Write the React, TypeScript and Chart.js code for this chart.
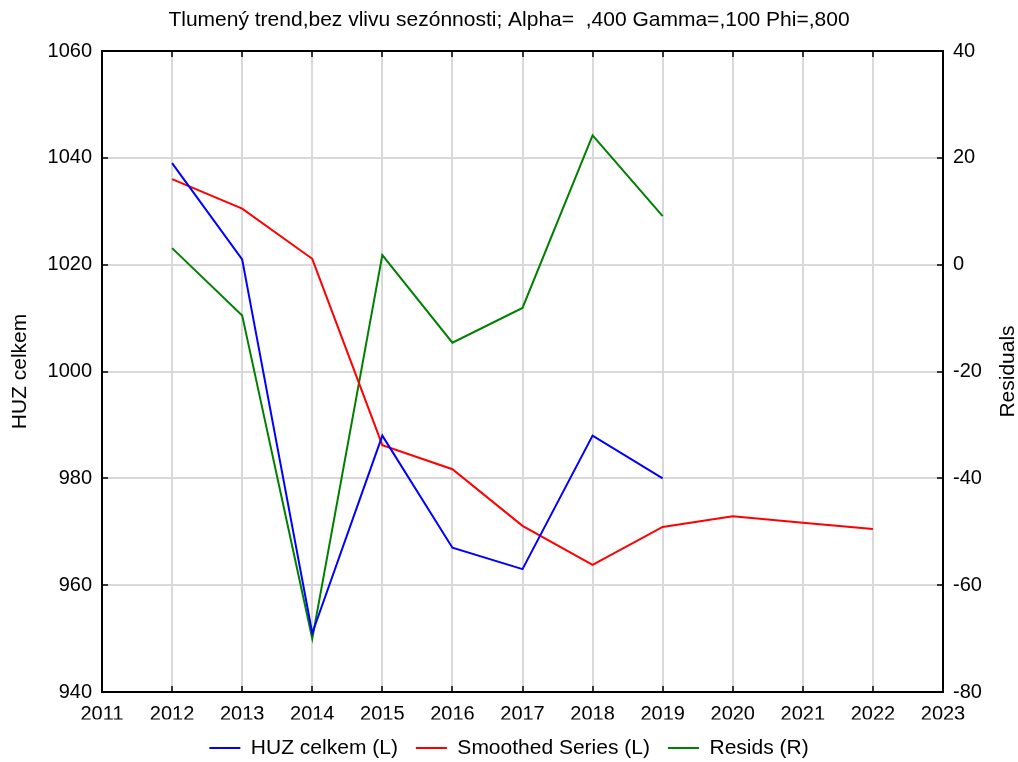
import React, { useEffect, useRef } from "react";
import { Chart, registerables } from "chart.js";

Chart.register(...registerables);

const TITLE = "Tlumený trend,bez vlivu sezónnosti; Alpha=  ,400 Gamma=,100 Phi=,800";
const LEFT_AXIS_TITLE = "HUZ celkem";
const RIGHT_AXIS_TITLE = "Residuals";

const yearsObserved = [2012, 2013, 2014, 2015, 2016, 2017, 2018, 2019];
const yearsSmoothed = [2012, 2013, 2014, 2015, 2016, 2017, 2018, 2019, 2020, 2021, 2022];

const huzCelkem = [1039, 1021, 951, 988, 967, 963, 988, 980];
const smoothedSeries = [1036, 1030.5, 1021.1, 986.2, 981.7, 971.1, 963.8, 970.9, 972.9, 971.7, 970.5];
const resids = [3.1, -9.5, -70, 1.8, -14.6, -8.1, 24.2, 9.1];

const xMin = 2011;
const xMax = 2023;
const leftMin = 940;
const leftMax = 1060;
const leftStep = 20;
const rightMin = -80;
const rightMax = 40;
const rightStep = 20;

const FONT = "'Liberation Sans', Arial, Helvetica, sans-serif";

const framePlugin = {
  id: "framePlugin",
  afterDraw(chart: any) {
    const { ctx, chartArea } = chart;
    const { left, right, top, bottom } = chartArea;
    const tl = 6;
    ctx.save();
    ctx.strokeStyle = "#000";
    ctx.lineWidth = 2;
    ctx.strokeRect(left, top, right - left, bottom - top);
    ctx.lineWidth = 1.5;
    const xs = chart.scales.x;
    ctx.beginPath();
    xs.ticks.forEach((t: any) => {
      const px = Math.round(xs.getPixelForValue(t.value));
      ctx.moveTo(px, top);
      ctx.lineTo(px, top + tl);
      ctx.moveTo(px, bottom);
      ctx.lineTo(px, bottom - tl);
    });
    const ys = chart.scales.y;
    ys.ticks.forEach((t: any) => {
      const py = Math.round(ys.getPixelForValue(t.value));
      ctx.moveTo(left, py);
      ctx.lineTo(left + tl, py);
    });
    const y1 = chart.scales.y1;
    y1.ticks.forEach((t: any) => {
      const py = Math.round(y1.getPixelForValue(t.value));
      ctx.moveTo(right, py);
      ctx.lineTo(right - tl, py);
    });
    ctx.stroke();

    ctx.fillStyle = "#000";
    ctx.font = `21px ${FONT}`;
    ctx.textAlign = "center";
    ctx.textBaseline = "middle";
    const cy = (top + bottom) / 2;
    ctx.save();
    ctx.translate(20, cy);
    ctx.rotate(-Math.PI / 2);
    ctx.fillText(LEFT_AXIS_TITLE, 0, 0);
    ctx.restore();
    ctx.save();
    ctx.translate(1008, cy);
    ctx.rotate(-Math.PI / 2);
    ctx.fillText(RIGHT_AXIS_TITLE, 0, 0);
    ctx.restore();
    ctx.restore();
  },
};

export default function App() {
  const ref = useRef<HTMLCanvasElement | null>(null);

  useEffect(() => {
    if (!ref.current) return;
    const chart = new Chart(ref.current, {
      type: "line",
      data: {
        datasets: [
          {
            label: "HUZ celkem (L)",
            data: yearsObserved.map((x, i) => ({ x, y: huzCelkem[i] })),
            borderColor: "#0000ff",
            backgroundColor: "#0000ff",
            borderWidth: 2,
            pointRadius: 0,
            tension: 0,
            yAxisID: "y",
          },
          {
            label: "Smoothed Series (L)",
            data: yearsSmoothed.map((x, i) => ({ x, y: smoothedSeries[i] })),
            borderColor: "#ff0000",
            backgroundColor: "#ff0000",
            borderWidth: 2,
            pointRadius: 0,
            tension: 0,
            yAxisID: "y",
          },
          {
            label: "Resids (R)",
            data: yearsObserved.map((x, i) => ({ x, y: resids[i] })),
            borderColor: "#008000",
            backgroundColor: "#008000",
            borderWidth: 2,
            pointRadius: 0,
            tension: 0,
            yAxisID: "y1",
          },
        ],
      },
      options: {
        responsive: false,
        animation: false,
        layout: { padding: { left: 0, right: 0, top: 0, bottom: 0 } },
        plugins: {
          title: {
            display: true,
            text: TITLE,
            color: "#000",
            font: { family: FONT, size: 21, weight: "normal", lineHeight: 1.2 },
            padding: { top: 8, bottom: 17.8 },
          },
          legend: {
            position: "bottom",
            maxHeight: 42.5,
            labels: {
              usePointStyle: true,
              pointStyle: "line",
              pointStyleWidth: 31,
              color: "#000",
              font: { family: FONT, size: 21 },
              padding: 18,
            },
          },
          tooltip: { enabled: false },
        },
        scales: {
          x: {
            type: "linear",
            min: xMin,
            max: xMax,
            ticks: {
              stepSize: 1,
              color: "#000",
              font: { family: FONT, size: 20 },
              padding: 10,
              maxRotation: 0,
              autoSkip: false,
              callback: (v: any) => String(v),
            },
            grid: { color: "#d9d9d9", lineWidth: 2, drawTicks: false },
            border: { display: false },
            afterFit: (s: any) => {
              s.height = 27.5;
            },
          },
          y: {
            type: "linear",
            position: "left",
            min: leftMin,
            max: leftMax,
            ticks: {
              stepSize: leftStep,
              color: "#000",
              font: { family: FONT, size: 20 },
              padding: 10,
              callback: (v: any) => String(v),
            },
            grid: { color: "#d9d9d9", lineWidth: 2, drawTicks: false },
            border: { display: false },
            afterFit: (s: any) => {
              s.width = 102;
            },
          },
          y1: {
            type: "linear",
            position: "right",
            min: rightMin,
            max: rightMax,
            ticks: {
              stepSize: rightStep,
              color: "#000",
              font: { family: FONT, size: 20 },
              padding: 10,
              callback: (v: any) => String(v),
            },
            grid: { display: false, drawTicks: false },
            border: { display: false },
            afterFit: (s: any) => {
              s.width = 75;
            },
          },
        },
      },
      plugins: [framePlugin],
    } as any);
    return () => chart.destroy();
  }, []);

  return (
    <div style={{ position: "fixed", left: 0, top: 0, width: 1018, height: 762, background: "#fff" }}>
      <canvas ref={ref} width={1018} height={762} />
    </div>
  );
}
